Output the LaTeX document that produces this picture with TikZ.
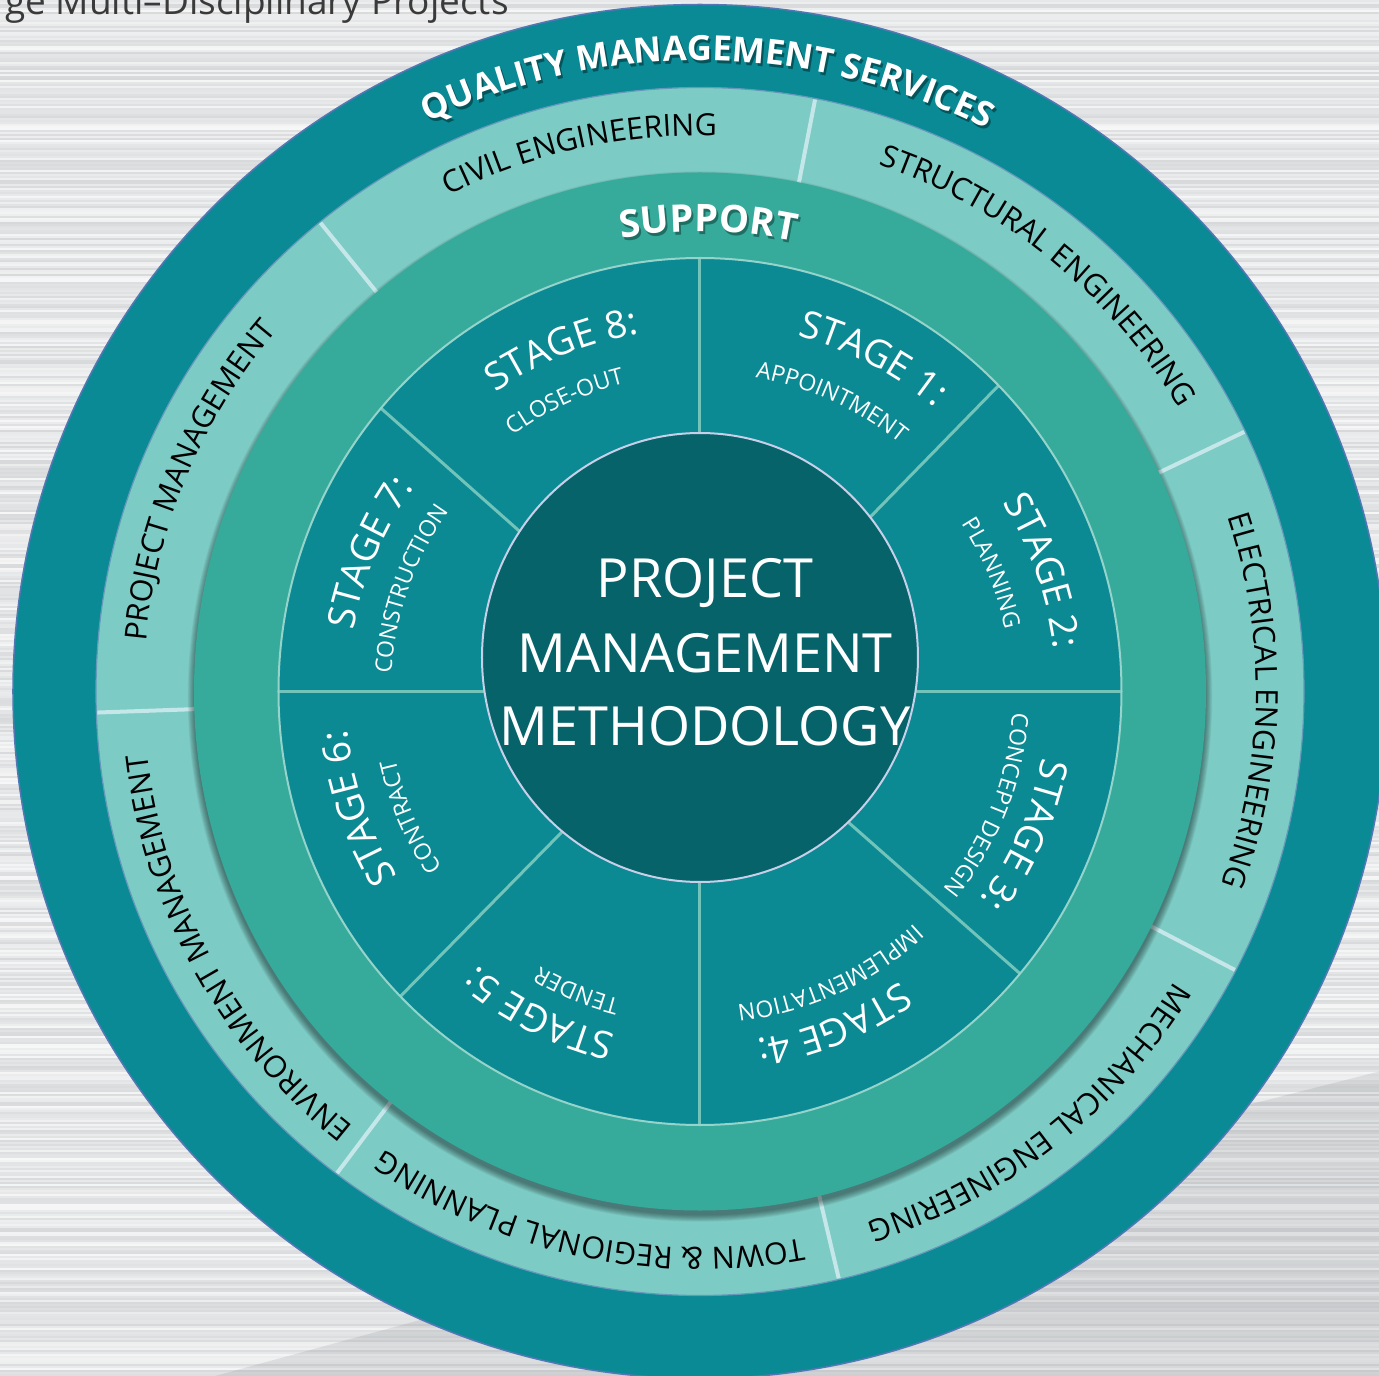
\documentclass[tikz,border=0pt]{standalone}
\usepackage{fontspec}
\setmainfont{Open Sans}
\usetikzlibrary{decorations.text}
\definecolor{darkring}{HTML}{0A8A94}
\definecolor{lightring}{HTML}{7DCBC5}
\definecolor{supportring}{HTML}{37AB9B}
\definecolor{stagering}{HTML}{0B8A94}
\definecolor{corecol}{HTML}{06636A}
\definecolor{ringedge}{HTML}{5577B5}
\definecolor{segline}{HTML}{C6E7EA}
\definecolor{stageline}{HTML}{72C4BA}
\definecolor{coreedge}{HTML}{C8CFE8}
\definecolor{bgd}{HTML}{6E747A}
\definecolor{qmsshadow}{HTML}{04545B}
\definecolor{supshadow}{HTML}{1F6E63}
\definecolor{titlegray}{HTML}{3A3A3A}
\newcommand\outerfont{\fontsize{30.5}{36}\selectfont}
\newcommand\qmsfont{\fontsize{34.7}{40}\selectfont\bfseries}
\newcommand\supfont{\fontsize{38}{44}\selectfont\bfseries}
\newcommand\stgfont{\fontsize{38}{44}\selectfont}
\newcommand\subfont{\fontsize{23}{28}\selectfont}
% #1 centre shift, #2 baseline radius, #3 centre angle, #4 format, #5 colour, #6 text
\newcommand\ringtext[6][0,0]{%
  \path[shift={(#1)}, decorate, decoration={text along path, text align=center,
    text color=#5, text={|#4|#6}}]
    ({#3+80}:#2) arc[start angle={#3+80}, end angle={#3-80}, radius=#2];}
\begin{document}
\begin{tikzpicture}[x=1pt,y=1pt]
\useasboundingbox (-700,-684.5) rectangle (679,691.5);
% background
\fill[white!80!bgd] (-700,-684.5) rectangle (679,691.5);
\pgfmathsetseed{42}
\foreach \i in {0,...,687}{
  \pgfmathsetmacro\v{72+rnd*22}
  \fill[white!\v!bgd] (-700,{-684.5+2*\i}) rectangle (679,{-684.5+2*\i+2});
}
\fill[bgd, opacity=0.15] (-485,-684.5) -- (-40,-563) -- (679,-380) -- (679,-684.5) -- cycle;
\node[anchor=base west, inner sep=0, text=titlegray, font=\fontsize{37}{42}\selectfont] (title) at (-695,677) {ge Multi–Disciplinary Projects};
% rings
\fill[darkring] (0,0) circle[radius=687];
\draw[ringedge, line width=1.5pt] (0,0) circle[radius=687];
\fill[lightring] (0,0) circle[radius=604];
\draw[ringedge!60!lightring, line width=1.2pt] (0,0) circle[radius=604];
\foreach \a in {79,25.5,-27.5,-76.7,-127,182,129}
  \draw[segline, line width=4pt] (\a:500) -- (\a:603);
\foreach \k in {1,...,8}
  \fill[black, opacity=0.06] (0,-5) ellipse[x radius={505+\k*0.9}, y radius={518+\k*0.9}];
\fill[supportring] (0,0) ellipse[x radius=506, y radius=519];
\fill[stagering] (0,0) ellipse[x radius=421.5, y radius=433.5];
\begin{scope}
  \clip (0,0) ellipse[x radius=421.5, y radius=433.5];
  \foreach \a in {90,45.7,0,-41.4,-90,-134.5,180,138.4}
    \draw[stageline, line width=3pt] (0,0) -- (\a:500);
\end{scope}
\draw[stageline!75!white, line width=2pt] (0,0) ellipse[x radius=421.5, y radius=433.5];
\fill[corecol] (0,34) ellipse[x radius=218, y radius=224.5];
\draw[coreedge, line width=2pt] (0,34) ellipse[x radius=218, y radius=224.5];
% centre text
\node[anchor=base, inner sep=0, text=white, font=\fontsize{54}{60}\selectfont] (t1) at (5,93.5) {PROJECT};
\node[anchor=base, inner sep=0, text=white, font=\fontsize{54}{60}\selectfont] (t2) at (5,19.5) {MANAGEMENT};
\node[anchor=base, inner sep=0, text=white, font=\fontsize{54}{60}\selectfont] (t3) at (5,-53.5) {METHODOLOGY};
% outer ring texts
\ringtext[2,-3]{631}{89.3}{\qmsfont}{qmsshadow}{QUALITY MANAGEMENT SERVICES}
\ringtext{631}{89.3}{\qmsfont}{white}{QUALITY MANAGEMENT SERVICES}
\ringtext{556}{102.6}{\outerfont}{black}{CIVIL ENGINEERING}
\ringtext{556}{50.9}{\outerfont}{black}{STRUCTURAL ENGINEERING}
\ringtext{556}{-1}{\outerfont}{black}{ELECTRICAL ENGINEERING}
\ringtext{556}{-52}{\outerfont}{black}{MECHANICAL ENGINEERING}
\ringtext{556}{-102}{\outerfont}{black}{TOWN {\&} REGIONAL PLANNING}
\ringtext{556}{209}{\outerfont}{black}{ENVIRONMENT MANAGEMENT}
\ringtext{556}{157.2}{\outerfont}{black}{PROJECT MANAGEMENT}
\ringtext[2,-3]{460}{89}{\supfont}{supshadow}{SUPPORT}
\ringtext{460}{89}{\supfont}{white}{SUPPORT}
% stages
\ringtext{368.5}{62.5}{\stgfont}{white}{STAGE 1:}
\ringtext{319}{65.6}{\subfont}{white}{APPOINTMENT}
\ringtext{356.5}{19.4}{\stgfont}{white}{STAGE 2:}
\ringtext{311}{22.1}{\subfont}{white}{PLANNING}
\ringtext{348.5}{-23.8}{\stgfont}{white}{STAGE 3:}
\ringtext{313}{-21.5}{\subfont}{white}{CONCEPT DESIGN}
\ringtext{352.5}{-68.1}{\stgfont}{white}{STAGE 4:}
\ringtext{316}{-65.3}{\subfont}{white}{IMPLEMENTATION}
\ringtext{353.5}{-116.5}{\stgfont}{white}{STAGE 5:}
\ringtext{318}{-112.4}{\subfont}{white}{TENDER}
\ringtext{354.5}{198.8}{\stgfont}{white}{STAGE 6:}
\ringtext{312}{203.4}{\subfont}{white}{CONTRACT}
\ringtext{351.5}{157.2}{\stgfont}{white}{STAGE 7:}
\ringtext{309}{160.5}{\subfont}{white}{CONSTRUCTION}
\ringtext{362.5}{112}{\stgfont}{white}{STAGE 8:}
\ringtext{317}{115}{\subfont}{white}{CLOSE-OUT}
\end{tikzpicture}
\end{document}
